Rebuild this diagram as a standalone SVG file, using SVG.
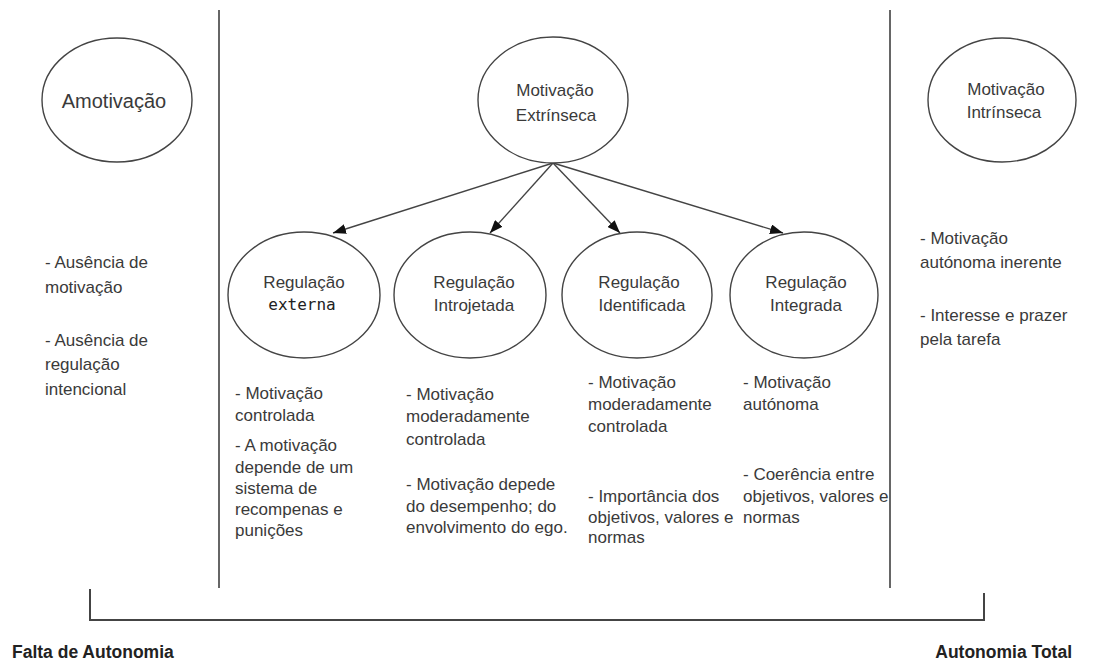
<svg xmlns="http://www.w3.org/2000/svg" width="1093" height="663" viewBox="0 0 1093 663">
  <style>
    .node { fill: #ffffff; stroke: #444444; stroke-width: 1.4; }
    .lbl { font-family: "Liberation Sans", Arial, sans-serif; font-size: 17px; fill: #3a3a3a; text-anchor: middle; }
    .mono { font-family: "DejaVu Sans Mono", "Liberation Mono", monospace; font-size: 16px; fill: #222222; text-anchor: middle; }
    .note { font-family: "Liberation Sans", Arial, sans-serif; font-size: 17px; fill: #3a3a3a; }
    .title { font-family: "Liberation Sans", Arial, sans-serif; font-size: 17.5px; font-weight: bold; fill: #222222; }
    .divider { stroke: #666666; stroke-width: 2; fill: none; }
    .edge { stroke: #444444; stroke-width: 1.4; fill: none; marker-end: url(#arrow); }
    .bracket { stroke: #444444; stroke-width: 2; fill: none; }
  </style>
  <defs>
    <marker id="arrow" markerUnits="userSpaceOnUse" markerWidth="14" markerHeight="10" refX="13" refY="5" orient="auto">
      <path d="M0,0 L13,5 L0,10 z" fill="#111111"/>
    </marker>
  </defs>

  <rect x="0" y="0" width="1093" height="663" fill="#ffffff"/>

  <!-- section dividers -->
  <line class="divider" x1="219" y1="10" x2="219" y2="588"/>
  <line class="divider" x1="890" y1="10" x2="890" y2="588"/>

  <!-- connectors -->
  <g id="connectors">
    <line class="edge" x1="553" y1="163" x2="333" y2="233"/>
    <line class="edge" x1="553" y1="163" x2="490" y2="233"/>
    <line class="edge" x1="553" y1="163" x2="620" y2="233"/>
    <line class="edge" x1="553" y1="163" x2="783" y2="233"/>
  </g>

  <!-- top row -->
  <g id="amotivacao">
    <ellipse class="node" cx="117" cy="100" rx="75" ry="62"/>
    <text class="lbl" x="114" y="108" style="font-size:20px">Amotivação</text>
  </g>
  <g id="motivacao-extrinseca">
    <ellipse class="node" cx="553" cy="100" rx="75" ry="63"/>
    <text class="lbl" x="555" y="96">Motivação</text>
    <text class="lbl" x="556" y="121">Extrínseca</text>
  </g>
  <g id="motivacao-intrinseca">
    <ellipse class="node" cx="1002" cy="100" rx="74" ry="62"/>
    <text class="lbl" x="1006" y="95">Motivação</text>
    <text class="lbl" x="1004" y="118">Intrínseca</text>
  </g>

  <!-- regulation styles -->
  <g id="regulacao-externa">
    <ellipse class="node" cx="304" cy="295" rx="76" ry="63"/>
    <text class="lbl" x="304" y="288">Regulação</text>
    <text class="mono" x="302" y="310">externa</text>
  </g>
  <g id="regulacao-introjetada">
    <ellipse class="node" cx="470" cy="295" rx="76" ry="63"/>
    <text class="lbl" x="474" y="288">Regulação</text>
    <text class="lbl" x="474" y="311">Introjetada</text>
  </g>
  <g id="regulacao-identificada">
    <ellipse class="node" cx="637" cy="295" rx="75" ry="63"/>
    <text class="lbl" x="639" y="288">Regulação</text>
    <text class="lbl" x="642" y="311">Identificada</text>
  </g>
  <g id="regulacao-integrada">
    <ellipse class="node" cx="804" cy="295" rx="74" ry="63"/>
    <text class="lbl" x="806" y="288">Regulação</text>
    <text class="lbl" x="806" y="311">Integrada</text>
  </g>

  <!-- descriptions -->
  <g id="desc-amotivacao">
    <text class="note" x="45" y="268">- Ausência de</text>
    <text class="note" x="45" y="293">motivação</text>
    <text class="note" x="45" y="346">- Ausência de</text>
    <text class="note" x="45" y="370">regulação</text>
    <text class="note" x="45" y="395">intencional</text>
  </g>
  <g id="desc-externa">
    <text class="note" x="235" y="399">- Motivação</text>
    <text class="note" x="235" y="421">controlada</text>
    <text class="note" x="235" y="451">- A motivação</text>
    <text class="note" x="235" y="473">depende de um</text>
    <text class="note" x="235" y="494">sistema de</text>
    <text class="note" x="235" y="515">recompenas e</text>
    <text class="note" x="235" y="536">punições</text>
  </g>
  <g id="desc-introjetada">
    <text class="note" x="406" y="400">- Motivação</text>
    <text class="note" x="406" y="422">moderadamente</text>
    <text class="note" x="406" y="445">controlada</text>
    <text class="note" x="406" y="490">- Motivação depede</text>
    <text class="note" x="406" y="512">do desempenho; do</text>
    <text class="note" x="406" y="533">envolvimento do ego.</text>
  </g>
  <g id="desc-identificada">
    <text class="note" x="588" y="388">- Motivação</text>
    <text class="note" x="588" y="410">moderadamente</text>
    <text class="note" x="588" y="432">controlada</text>
    <text class="note" x="588" y="502">- Importância dos</text>
    <text class="note" x="588" y="523">objetivos, valores e</text>
    <text class="note" x="588" y="543">normas</text>
  </g>
  <g id="desc-integrada">
    <text class="note" x="743" y="388">- Motivação</text>
    <text class="note" x="743" y="410">autónoma</text>
    <text class="note" x="743" y="480">- Coerência entre</text>
    <text class="note" x="743" y="502">objetivos, valores e</text>
    <text class="note" x="743" y="523">normas</text>
  </g>
  <g id="desc-intrinseca">
    <text class="note" x="920" y="244">- Motivação</text>
    <text class="note" x="920" y="268">autónoma inerente</text>
    <text class="note" x="920" y="321">- Interesse e prazer</text>
    <text class="note" x="920" y="345">pela tarefa</text>
  </g>

  <!-- autonomy scale -->
  <g id="escala">
    <polyline class="bracket" points="90,589 90,620 984,620 984,593"/>
    <text class="title" x="12" y="658">Falta de Autonomia</text>
    <text class="title" x="1072" y="658" text-anchor="end">Autonomia Total</text>
  </g>
</svg>
